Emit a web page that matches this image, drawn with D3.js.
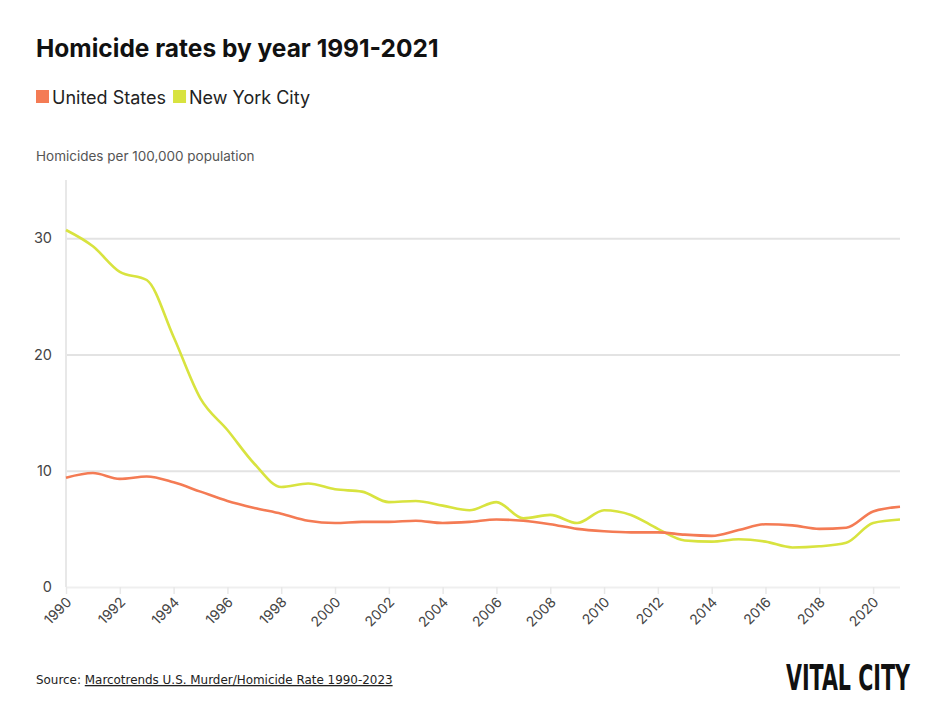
<!DOCTYPE html>
<html><head><meta charset="utf-8">
<script src="https://cdn.jsdelivr.net/npm/d3@7"></script>
<style>
body{margin:0;background:#fff;}
svg{display:block;}
</style>
</head><body>
<svg id="chart" width="945" height="720"></svg>
<script>
const years = d3.range(1990, 2022);
const usRates = [9.4,9.8,9.3,9.5,9.0,8.2,7.4,6.8,6.3,5.7,5.5,5.6,5.6,5.7,5.5,5.6,5.8,5.7,5.4,5.0,4.8,4.7,4.7,4.5,4.4,4.9,5.4,5.3,5.0,5.1,6.5,6.9];
const nycRates = [30.7,29.3,27.1,26.4,21.5,16.2,13.5,10.6,8.6,8.9,8.4,8.2,7.3,7.4,7.0,6.6,7.3,5.9,6.2,5.5,6.6,6.2,5.0,4.0,3.9,4.1,3.9,3.4,3.5,3.8,5.5,5.8];
const yTicks = [0,10,20,30];
const xTicks = d3.range(1990, 2021, 2);
const seriesNames = ["United States","New York City"];
const seriesColors = ["#f47b54","#d8e33f"];

(function(){
const svg = d3.select("#chart");
const mLeft = 66, mRight = 900, mTop = 180, mBottom = 587;
const x = d3.scaleLinear().domain([1990, 2021]).range([mLeft, mRight]);
const y = d3.scaleLinear().domain([0, 35]).range([mBottom, mTop]);
const FONT = "Inter, 'Noto Sans', sans-serif";

// fit a text to a target width by horizontal scaling
function fitWidth(sel, x0, y0, w) {
  const natural = sel.node().getComputedTextLength();
  const s = w / natural;
  sel.attr("x", 0).attr("y", 0).attr("transform", `translate(${x0},${y0}) scale(${s},1)`);
}

// title
svg.append("text").attr("x", 36).attr("y", 57)
  .attr("font-family", FONT).attr("font-weight", 700)
  .attr("font-size", 24.5).attr("fill", "#111").text("Homicide rates by year 1991-2021");

// legend
let lx = 36;
seriesNames.forEach((n, i) => {
  svg.append("rect").attr("x", lx).attr("y", 90).attr("width", 13).attr("height", 13).attr("fill", seriesColors[i]);
  const t = svg.append("text").attr("x", lx + 16).attr("y", 104)
    .attr("font-family", FONT).attr("font-size", 18).attr("fill", "#222").text(n);
  lx += 16 + t.node().getComputedTextLength() + 7;
});

// axis title
svg.append("text").attr("x", 36).attr("y", 161)
  .attr("font-family", FONT).attr("font-size", 13.5).attr("fill", "#555")
  .text("Homicides per 100,000 population");

// gridlines
const yAxis = d3.axisLeft(y).tickValues(yTicks).tickSize(-(mRight - mLeft)).tickPadding(14);
const gy = svg.append("g").attr("transform", `translate(${mLeft},0)`).call(yAxis);
gy.select(".domain").remove();
gy.selectAll(".tick line").attr("stroke", d => d === 0 ? "#efefef" : "#e3e3e3").attr("stroke-width", 2);
gy.selectAll(".tick text").attr("font-family", FONT).attr("font-size", 14.5).attr("fill", "#444");

// vertical axis line
svg.append("line").attr("x1", mLeft).attr("x2", mLeft).attr("y1", mTop).attr("y2", mBottom)
  .attr("stroke", "#e8e8e8").attr("stroke-width", 2);

// x axis
const xAxis = d3.axisBottom(x).tickValues(xTicks).tickFormat(d3.format("d")).tickSize(7).tickPadding(6);
const gx = svg.append("g").attr("transform", `translate(0,${mBottom})`).call(xAxis);
gx.select(".domain").remove();
gx.selectAll(".tick line").attr("stroke", "#e8e8e8").attr("stroke-width", 1.5);
gx.selectAll(".tick text")
  .attr("font-family", FONT).attr("font-size", 14).attr("fill", "#444")
  .attr("text-anchor", "end").attr("dy", null).attr("y", 0)
  .attr("transform", "translate(6,16) rotate(-45)");

// lines
const line = d3.line().x((d, i) => x(years[i])).y(d => y(d)).curve(d3.curveMonotoneX);
[nycRates, usRates].forEach((arr, k) => {
  const i = k === 0 ? 1 : 0;
  svg.append("path").datum(arr).attr("d", line).attr("fill", "none")
    .attr("stroke", seriesColors[i]).attr("stroke-width", 2.6).attr("stroke-linejoin", "round");
});

// source
const src = svg.append("text")
  .attr("font-family", "'Liberation Sans Narrow', 'DejaVu Sans Condensed', sans-serif").attr("font-size", 13).attr("fill", "#222");
src.append("tspan").text("Source: ");
src.append("tspan").attr("text-decoration", "underline").text("Marcotrends U.S. Murder/Homicide Rate 1990-2023");
fitWidth(src, 36, 684, 357);

// logo
const logo = svg.append("text")
  .attr("font-family", "'DejaVu Sans Condensed', 'Liberation Sans Narrow', sans-serif").attr("font-weight", 700)
  .attr("font-size", 36).attr("fill", "#111").text("VITAL CITY");
fitWidth(logo, 786, 690, 124);
})();
</script>
</body></html>
